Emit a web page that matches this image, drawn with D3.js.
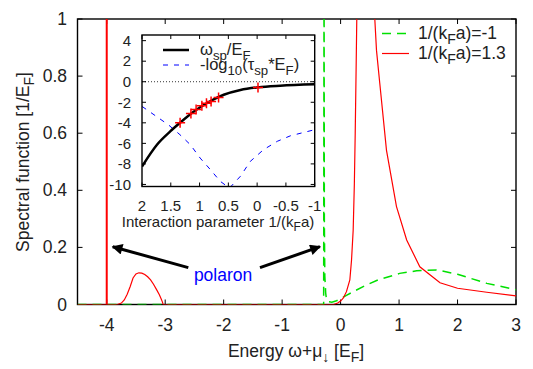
<!DOCTYPE html>
<html>
<head>
<meta charset="utf-8">
<script src="https://cdn.jsdelivr.net/npm/d3@7"></script>
<style>
  body { margin: 0; background: #fff; }
  svg { display: block; font-family: 'Liberation Sans', Arial, sans-serif; }
  text { fill: #222; }
</style>
</head>
<body>
<svg width="533" height="369"></svg>
<script>
// main plot: spectral functions
const energyTicks = [-4, -3, -2, -1, 0, 1, 2, 3]
const spectralTicks = [0, 0.2, 0.4, 0.6, 0.8, 1]

// 1/(kFa)=1.3, continuum part (the polaron delta is drawn at polaronRedX)
const redX = [-4.5, -3.82, -3.75, -3.7, -3.65, -3.6, -3.55, -3.5, -3.45, -3.4, -3.35, -3.3, -3.25, -3.2, -3.15, -3.1, -3.07, -3.05, -3.035, -0.12, -0.05, 0, 0.044, 0.1, 0.158, 0.187, 0.215, 0.235, 0.25, 0.265, 0.28, 0.43, 0.585, 0.614, 0.67, 0.785, 0.956, 1.13, 1.355, 1.7, 2, 2.5, 3]
const redY = [0, 0, 0.005, 0.016, 0.036, 0.062, 0.093, 0.107, 0.111, 0.11, 0.105, 0.097, 0.086, 0.071, 0.053, 0.034, 0.02, 0.01, 0, 0, 0.005, 0.012, 0.022, 0.045, 0.086, 0.156, 0.26, 0.42, 0.6, 0.82, 1.05, 3, 1.0, 0.89, 0.775, 0.54, 0.343, 0.226, 0.132, 0.076, 0.057, 0.043, 0.03]
const polaronRedX = -4

// 1/(kFa)=-1
const greenX = [-4.5, -0.29, -0.283, -0.278, -0.27, -0.255, -0.24, -0.21, -0.15, -0.07, 0.016, 0.1, 0.215, 0.44, 0.64, 1.01, 1.3, 1.64, 1.7, 2, 2.5, 3]
const greenY = [0, 0, 1.2, 0.3, 0.1, 0.04, 0.016, 0.01, 0.008, 0.013, 0.022, 0.032, 0.045, 0.068, 0.086, 0.109, 0.118, 0.121, 0.119, 0.106, 0.074, 0.052]

// "polaron" arrows, data coordinates
const arrowTail = [[-2.605, 0.129], [-1.379, 0.129]]
const arrowTip = [[-3.898, 0.2025], [-0.353, 0.2025]]
const polaronLabel = [-2.01, 0.105]

// inset: polaron energy and lifetime vs interaction parameter
const couplingTicks = [2, 1.5, 1, 0.5, 0, -0.5, -1]
const insetTicks = [4, 2, 0, -2, -4, -6, -8, -10]
const energyX = [2, 1.74, 1.51, 1.34, 1.11, 0.87, 0.58, 0.29, -0.015, -0.4, -1]
const energyY = [-8.25, -6.13, -4.84, -4.0, -2.95, -2.07, -1.27, -0.8, -0.55, -0.39, -0.25]
const crossX = [1.338, 1.15, 1.06, 0.96, 0.88, 0.8, 0.67, -0.015]
const crossY = [-4.0, -3.1, -2.7, -2.34, -2.1, -1.92, -1.53, -0.55]
const lifeX = [2, 1.77, 1.54, 1.34, 1.16, 0.99, 0.81, 0.64, 0.48, 0.29, 0.12, -0.11, -0.35, -0.58, -1]
const lifeY = [-2.4, -3.3, -4.2, -5.16, -6.13, -7.43, -8.57, -9.7, -10.35, -9.2, -7.76, -6.62, -5.8, -5.26, -4.67]

const svg = d3.select('svg')
const big = 17.5
const small = 15
const keySize = 16.5

const x = d3.scaleLinear().domain([-4.5, 3]).range([77.5, 516])
const y = d3.scaleLinear().domain([0, 1]).range([304.5, 19])

svg.append('defs').append('clipPath').attr('id', 'mainclip')
    .append('rect')
    .attr('x', x.range()[0]).attr('y', y.range()[1])
    .attr('width', x.range()[1] - x.range()[0])
    .attr('height', y.range()[0] - y.range()[1])

svg.select('defs').append('marker')
    .attr('id', 'head')
    .attr('viewBox', '0 0 10 10')
    .attr('refX', 9).attr('refY', 5)
    .attr('markerWidth', 5).attr('markerHeight', 3.6)
    .attr('markerUnits', 'strokeWidth')
    .attr('orient', 'auto')
    .append('path').attr('d', 'M0,0 L10,5 L0,10 z').attr('fill', '#000')

// subscripted text: parts = [[text, isSub], ...]
function richText(sel, parts, size) {
    sel.attr('font-size', size)
    let off = 0
    parts.forEach(([str, sub]) => {
        const target = sub ? size * 0.3 : 0
        sel.append('tspan')
            .attr('font-size', sub ? size * 0.8 : size)
            .attr('dy', target - off)
            .text(str)
        off = target
    })
    return sel
}

// ticks, mirrored on all sides, pointing inward
function frameTicks(g, xs, ys, xt, yt, len) {
    const [x0, x1] = xs.range()
    const [y0, y1] = ys.range()
    xt.forEach(v => {
        g.append('line').attr('x1', xs(v)).attr('x2', xs(v)).attr('y1', y0).attr('y2', y0 - len)
        g.append('line').attr('x1', xs(v)).attr('x2', xs(v)).attr('y1', y1).attr('y2', y1 + len)
    })
    yt.forEach(v => {
        g.append('line').attr('x1', x0).attr('x2', x0 + len).attr('y1', ys(v)).attr('y2', ys(v))
        g.append('line').attr('x1', x1).attr('x2', x1 - len).attr('y1', ys(v)).attr('y2', ys(v))
    })
    g.selectAll('line').attr('stroke', '#000').attr('stroke-width', 1)
    g.append('rect')
        .attr('x', x0).attr('y', y1)
        .attr('width', x1 - x0).attr('height', y0 - y1)
        .attr('fill', 'none').attr('stroke', '#000').attr('stroke-width', 1.4)
}

const mainTicks = svg.append('g')
frameTicks(mainTicks, x, y, energyTicks, spectralTicks, 5)

svg.append('g').selectAll('text').data(energyTicks).join('text')
    .attr('x', d => x(d)).attr('y', 331)
    .attr('text-anchor', 'middle').attr('font-size', big)
    .text(d => d)

svg.append('g').selectAll('text').data(spectralTicks).join('text')
    .attr('x', 67).attr('y', d => y(d) + 6)
    .attr('text-anchor', 'end').attr('font-size', big)
    .text(d => d)

richText(svg.append('text')
    .attr('transform', 'translate(29,162) rotate(-90)')
    .attr('text-anchor', 'middle'),
    [['Spectral function [1/E', false], ['F', true], [']', false]], big)

richText(svg.append('text')
    .attr('x', 296).attr('y', 357)
    .attr('text-anchor', 'middle'),
    [['Energy \u03c9+\u03bc', false], ['\u2193', true], [' [E', false], ['F', true], [']', false]], big)

// curves
const plot = svg.append('g').attr('clip-path', 'url(#mainclip)')
const mainLine = d3.line().x(d => x(d[0])).y(d => y(d[1]))

plot.append('path')
    .datum(greenX.map((v, i) => [v, greenY[i]]))
    .attr('d', mainLine)
    .attr('fill', 'none').attr('stroke', '#00e000').attr('stroke-width', 1.5)
    .attr('stroke-dasharray', '9,6')

plot.append('path')
    .datum(redX.map((v, i) => [v, redY[i]]))
    .attr('d', mainLine)
    .attr('fill', 'none').attr('stroke', '#ff0000').attr('stroke-width', 1.2)

plot.append('line')
    .attr('x1', x(polaronRedX)).attr('x2', x(polaronRedX))
    .attr('y1', y(0)).attr('y2', y(1))
    .attr('stroke', '#ff0000').attr('stroke-width', 2)

// main legend
const legendRows = [
    { label: '-1', color: '#00e000', dash: '9,6', w: 1.5 },
    { label: '1.3', color: '#ff0000', dash: null, w: 1.2 }
]
legendRows.forEach((row, i) => {
    const ly = 33.5 + i * 20
    svg.append('line')
        .attr('x1', 382).attr('x2', 409).attr('y1', ly).attr('y2', ly)
        .attr('stroke', row.color).attr('stroke-width', row.w)
        .attr('stroke-dasharray', row.dash)
    richText(svg.append('text').attr('x', 418).attr('y', ly + 5.5),
        [['1/(k', false], ['F', true], ['a)=' + row.label, false]], big)
})

// polaron annotation
arrowTail.forEach((t, i) => {
    svg.append('line')
        .attr('x1', x(t[0])).attr('y1', y(t[1]))
        .attr('x2', x(arrowTip[i][0])).attr('y2', y(arrowTip[i][1]))
        .attr('stroke', '#000').attr('stroke-width', 3)
        .attr('marker-end', 'url(#head)')
})
svg.append('text')
    .attr('x', x(polaronLabel[0])).attr('y', y(polaronLabel[1]) + 6)
    .attr('text-anchor', 'middle').attr('font-size', big)
    .style('fill', '#0000ff')
    .text('polaron')

// inset
const ix = d3.scaleLinear().domain([2, -1]).range([142, 314.7])
const iy = d3.scaleLinear().domain([-10.2, 4.55]).range([186.5, 35])

svg.append('rect')
    .attr('x', 142).attr('y', 35).attr('width', 314.7 - 142).attr('height', 186.5 - 35)
    .attr('fill', '#fff')

svg.select('defs').append('clipPath').attr('id', 'insetclip')
    .append('rect')
    .attr('x', 142).attr('y', 35).attr('width', 314.7 - 142).attr('height', 186.5 - 35)

const inset = svg.append('g')
const insetPlot = inset.append('g').attr('clip-path', 'url(#insetclip)')
const insetLine = d3.line().x(d => ix(d[0])).y(d => iy(d[1]))

insetPlot.append('line')
    .attr('x1', ix(2)).attr('x2', ix(-1)).attr('y1', iy(0)).attr('y2', iy(0))
    .attr('stroke', '#000').attr('stroke-width', 0.8).attr('stroke-dasharray', '1,2')

insetPlot.append('path')
    .datum(lifeX.map((v, i) => [v, lifeY[i]]))
    .attr('d', insetLine)
    .attr('fill', 'none').attr('stroke', '#0000ff').attr('stroke-width', 1)
    .attr('stroke-dasharray', '5,6')

insetPlot.append('path')
    .datum(energyX.map((v, i) => [v, energyY[i]]))
    .attr('d', insetLine.curve(d3.curveMonotoneX))
    .attr('fill', 'none').attr('stroke', '#000').attr('stroke-width', 2.5)

insetPlot.append('g').selectAll('path')
    .data(crossX.map((v, i) => [v, crossY[i]]))
    .join('path')
    .attr('d', d => {
        const cx = ix(d[0]), cy = iy(d[1])
        return `M${cx - 5},${cy}H${cx + 5}M${cx},${cy - 5}V${cy + 5}`
    })
    .attr('stroke', '#ff0000').attr('stroke-width', 1.5)

const insetTickG = inset.append('g')
frameTicks(insetTickG, ix, iy, couplingTicks, insetTicks, 4)

inset.append('g').selectAll('text').data(couplingTicks).join('text')
    .attr('x', d => ix(d)).attr('y', 210.5)
    .attr('text-anchor', 'middle').attr('font-size', small)
    .text(d => d)

inset.append('g').selectAll('text').data(insetTicks).join('text')
    .attr('x', 131).attr('y', d => iy(d) + 5.3)
    .attr('text-anchor', 'end').attr('font-size', small)
    .text(d => d)

richText(inset.append('text')
    .attr('x', 218).attr('y', 226.5).attr('text-anchor', 'middle'),
    [['Interaction parameter 1/(k', false], ['F', true], ['a)', false]], small)

// inset legend
inset.append('line')
    .attr('x1', 163).attr('x2', 189).attr('y1', 50).attr('y2', 50)
    .attr('stroke', '#000').attr('stroke-width', 2.5)
richText(inset.append('text').attr('x', 200).attr('y', 55),
    [['\u03c9', false], ['sp', true], ['/E', false], ['F', true]], keySize)

inset.append('line')
    .attr('x1', 163).attr('x2', 189).attr('y1', 65).attr('y2', 65)
    .attr('stroke', '#0000ff').attr('stroke-width', 1)
    .attr('stroke-dasharray', '5,6')
richText(inset.append('text').attr('x', 200).attr('y', 70),
    [['-log', false], ['10', true], ['(\u03c4', false], ['sp', true], ['*E', false], ['F', true], [')', false]], keySize)
</script>
</body>
</html>
